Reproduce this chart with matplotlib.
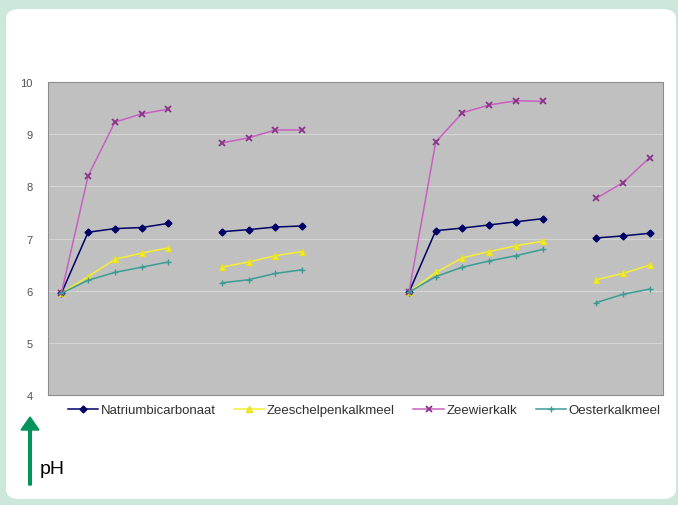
import numpy as np
import matplotlib.pyplot as plt
from matplotlib.patches import FancyBboxPatch, FancyArrow

nan = np.nan

# 23 category slots on the x axis, gaps are empty slots
categories = list(range(23))
natrium = [5.95, 7.12, 7.19, 7.21, 7.29, nan,
           7.13, 7.17, 7.22, 7.24, nan, nan, nan,
           5.97, 7.15, 7.20, 7.26, 7.32, 7.38, nan,
           7.01, 7.05, 7.10]
zeeschelp = [5.95, 6.27, 6.60, 6.72, 6.82, nan,
             6.45, 6.55, 6.67, 6.75, nan, nan, nan,
             5.97, 6.35, 6.63, 6.75, 6.86, 6.95, nan,
             6.21, 6.33, 6.49]
zeewier = [5.95, 8.20, 9.23, 9.39, 9.48, nan,
           8.83, 8.93, 9.08, 9.08, nan, nan, nan,
           5.97, 8.85, 9.41, 9.56, 9.64, 9.63, nan,
           7.77, 8.07, 8.55]
oester = [5.95, 6.20, 6.35, 6.45, 6.55, nan,
          6.15, 6.21, 6.33, 6.40, nan, nan, nan,
          5.97, 6.27, 6.45, 6.57, 6.67, 6.79, nan,
          5.77, 5.93, 6.03]
yticks = [4, 5, 6, 7, 8, 9, 10]

W, H = 678, 506
fig = plt.figure(figsize=(W / 100, H / 100), dpi=100)
fig.patch.set_facecolor('#cde8da')
plt.rcParams['font.family'] = ['Liberation Sans', 'DejaVu Sans']

# white rounded panel behind everything
panel = FancyBboxPatch((6 / W, 6 / H), 670 / W, 490 / H,
                       boxstyle='round,pad=0,rounding_size=0.02',
                       transform=fig.transFigure, facecolor='white',
                       edgecolor='none', zorder=-10)
fig.patches.append(panel)

ax = fig.add_axes([48 / W, 1 - 396 / H, 615 / W, 313 / H])
ax.set_zorder(5)
ax.set_facecolor('#c0c0c0')
for s in ax.spines.values():
    s.set_color('#8c8c8c')
    s.set_linewidth(0.8)

ax.plot(categories, natrium, color='#000066', lw=1.1, marker='D', ms=3.5,
        label='Natriumbicarbonaat')
ax.plot(categories, zeeschelp, color='#f4f030', lw=1.1, marker='^', ms=5,
        mec='#e8e020', label='Zeeschelpenkalkmeel')
ax.plot(categories, zeewier, color='#c860c0', lw=1.1, marker='x', ms=5,
        mew=1.3, mec='#883388', label='Zeewierkalk')
ax.plot(categories, oester, color='#3a9c94', lw=1.1, marker='+', ms=5,
        mew=1.0, label='Oesterkalkmeel')

ax.set_xlim(-0.5, 22.5)
ax.set_ylim(4, 10)
ax.set_yticks(yticks)
ax.set_yticklabels([str(t) for t in yticks])
ax.set_xticks([])
ax.tick_params(axis='y', length=0, pad=11, labelsize=8, labelcolor='#505050')
ax.grid(axis='y', color='#d4d4d4', lw=0.8)
ax.set_axisbelow(True)

fig.legend(loc='center', bbox_to_anchor=(364 / W, 1 - 411 / H), ncol=4,
           frameon=False, fontsize=9.5, handlelength=2.3, handletextpad=0.2,
           columnspacing=1.4, labelcolor='#303030')

# pH arrow
fig.patches.append(FancyArrow(
    30 / W, 1 - 486 / H, 0, 68 / H, width=2 / H, head_width=18 / W,
    head_length=13 / H, length_includes_head=True, color='#00935a',
    transform=fig.transFigure, zorder=2))
fig.text(40 / W, 1 - 470 / H, 'pH', fontsize=14, va='center', ha='left',
         color='black')

fig.savefig('out.png', dpi=100, facecolor=fig.get_facecolor())
